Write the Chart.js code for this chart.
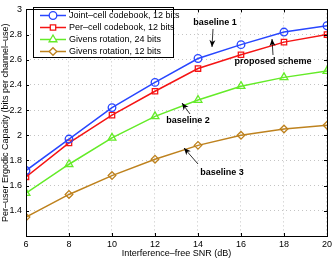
<!DOCTYPE html>
<html>
<head>
<meta charset="utf-8">
<script src="https://cdn.jsdelivr.net/npm/chart.js@4"></script>
<style>
  html, body { margin: 0; padding: 0; background: #fff; }
  #wrap { width: 335px; height: 259px; position: relative; }
</style>
</head>
<body>
<div id="wrap"><canvas id="capChart" width="335" height="259"></canvas></div>
<script>
const snr = [6, 8, 10, 12, 14, 16, 18, 20];
const jointCell = [1.72, 1.97, 2.22, 2.42, 2.61, 2.72, 2.82, 2.87];
const perCell = [1.67, 1.94, 2.16, 2.35, 2.53, 2.64, 2.74, 2.80];
const givens24 = [1.54, 1.77, 1.98, 2.15, 2.28, 2.39, 2.46, 2.51];
const givens12 = [1.35, 1.53, 1.68, 1.81, 1.92, 2.00, 2.05, 2.08];
const seriesNames = ["Joint\u2013cell codebook, 12 bits", "Per\u2013cell codebook, 12 bits",
                     "Givens rotation, 24 bits", "Givens rotation, 12 bits"];
const yTicks = [1.2, 1.4, 1.6, 1.8, 2, 2.2, 2.4, 2.6, 2.8, 3];

const FONT = "Liberation Sans, Arial, sans-serif";

function mkSet(label, data, color, style) {
  return {
    label: label,
    data: data,
    borderColor: color,
    backgroundColor: "rgba(255,255,255,0)",
    borderWidth: 1.5,
    pointStyle: style,
    pointRadius: style === "triangle" ? 4.5 : 3.8,
    pointBorderWidth: 1.3,
    pointBorderColor: color,
    pointBackgroundColor: "rgba(255,255,255,0)",
    tension: 0
  };
}

// legend + text notes drawn on top of the plot
const notes = {
  id: "notes",
  afterDraw(chart) {
    const ctx = chart.ctx;
    const xs = chart.scales.x, ys = chart.scales.y;
    ctx.save();
    // legend box
    const bx = 33, by = 7, bw = 140, bh = 50;
    ctx.fillStyle = "#fff";
    ctx.fillRect(bx, by, bw, bh);
    ctx.strokeStyle = "#000";
    ctx.lineWidth = 1;
    ctx.strokeRect(bx + 0.5, by + 0.5, bw, bh);
    ctx.font = "9px " + FONT;
    ctx.textBaseline = "middle";
    chart.data.datasets.forEach((ds, i) => {
      const yy = 15.5 + i * 12;
      ctx.strokeStyle = ds.borderColor;
      ctx.lineWidth = 1.5;
      ctx.beginPath();
      ctx.moveTo(40, yy);
      ctx.lineTo(66, yy);
      ctx.stroke();
      ctx.lineWidth = 1.3;
      ctx.fillStyle = "#fff";
      Chart.helpers.drawPoint(ctx, {
        pointStyle: ds.pointStyle, radius: ds.pointRadius, borderWidth: 1.3
      }, 53, yy);
      ctx.fillStyle = "#000";
      ctx.fillText(ds.label, 69, yy + 0.5);
    });

    // annotations
    ctx.font = "bold 9px " + FONT;
    ctx.textAlign = "center";
    ctx.fillStyle = "#000";
    ctx.fillText("baseline 1", 215, 23);
    ctx.fillText("proposed scheme", 273, 62);
    ctx.fillText("baseline 2", 188, 121);
    ctx.fillText("baseline 3", 222, 173);

    function arrow(x1, y1, x2, y2) {
      ctx.strokeStyle = "#000";
      ctx.fillStyle = "#000";
      ctx.lineWidth = 0.8;
      ctx.beginPath();
      ctx.moveTo(x1, y1);
      ctx.lineTo(x2, y2);
      ctx.stroke();
      const a = Math.atan2(y2 - y1, x2 - x1);
      const L = 7, W = 3;
      ctx.beginPath();
      ctx.moveTo(x2, y2);
      ctx.lineTo(x2 - L * Math.cos(a) + W * Math.sin(a), y2 - L * Math.sin(a) - W * Math.cos(a));
      ctx.lineTo(x2 - L * Math.cos(a) * 0.7, y2 - L * Math.sin(a) * 0.7);
      ctx.lineTo(x2 - L * Math.cos(a) - W * Math.sin(a), y2 - L * Math.sin(a) + W * Math.cos(a));
      ctx.closePath();
      ctx.fill();
    }
    arrow(213, 29, 212, 47);
    arrow(273, 55, 272, 39);
    arrow(190, 114, 182, 103);
    arrow(198, 164, 184, 148);

    // inward tick marks + axis box
    const a = chart.chartArea;
    ctx.strokeStyle = "#000";
    ctx.lineWidth = 1;
    ctx.beginPath();
    snr.forEach(v => {
      const px = Math.round(xs.getPixelForValue(v)) + 0.5;
      ctx.moveTo(px, a.bottom); ctx.lineTo(px, a.bottom - 3);
      ctx.moveTo(px, a.top); ctx.lineTo(px, a.top + 3);
    });
    yTicks.forEach(v => {
      const py = Math.round(ys.getPixelForValue(v)) + 0.5;
      ctx.moveTo(a.left, py); ctx.lineTo(a.left + 3, py);
      ctx.moveTo(a.right, py); ctx.lineTo(a.right - 3, py);
    });
    ctx.stroke();
    ctx.strokeRect(Math.round(a.left) + 0.5, Math.round(a.top) + 0.5,
                   Math.round(a.right - a.left), Math.round(a.bottom - a.top));
    ctx.restore();
  }
};

new Chart(document.getElementById("capChart"), {
  type: "line",
  data: {
    labels: snr,
    datasets: [
      mkSet(seriesNames[0], jointCell, "rgb(40,70,255)", "circle"),
      mkSet(seriesNames[1], perCell, "rgb(245,20,20)", "rect"),
      mkSet(seriesNames[2], givens24, "rgb(100,235,40)", "triangle"),
      mkSet(seriesNames[3], givens12, "rgb(190,130,30)", "rectRot")
    ]
  },
  options: {
    responsive: false,
    animation: false,
    devicePixelRatio: 1,
    layout: { padding: { top: 3, right: 6, left: 0, bottom: 0 } },
    plugins: { legend: { display: false }, tooltip: { enabled: false } },
    scales: {
      x: {
        type: "linear",
        min: 6, max: 20,
        afterBuildTicks: s => { s.ticks = snr.map(v => ({ value: v })); },
        afterFit: s => { s.height = 23; },
        grid: { color: "#c4c4c4", lineWidth: 1, drawTicks: false },
        border: { display: false, dash: [1, 3] },
        ticks: { color: "#000", font: { size: 9, family: FONT }, padding: 3, maxRotation: 0 },
        title: { display: true, text: "Interference\u2013free SNR (dB)", color: "#000",
                 font: { size: 9, family: FONT }, padding: { top: 0, bottom: 0 } }
      },
      y: {
        min: 1.2, max: 3,
        afterBuildTicks: s => { s.ticks = yTicks.map(v => ({ value: v })); },
        afterFit: s => { s.width = 26; },
        grid: { color: "#c4c4c4", lineWidth: 1, drawTicks: false },
        border: { display: false, dash: [1, 3] },
        ticks: { color: "#000", font: { size: 9, family: FONT }, padding: 4,
                 callback: v => (v === 1.2 ? "" : v.toString()) },
        title: { display: true, text: "Per\u2013user Ergodic Capacity (bits per channel\u2013use)",
                 color: "#000", font: { size: 9, family: FONT }, padding: { top: 0, bottom: 1 } }
      }
    }
  },
  plugins: [notes]
});
</script>
</body>
</html>
